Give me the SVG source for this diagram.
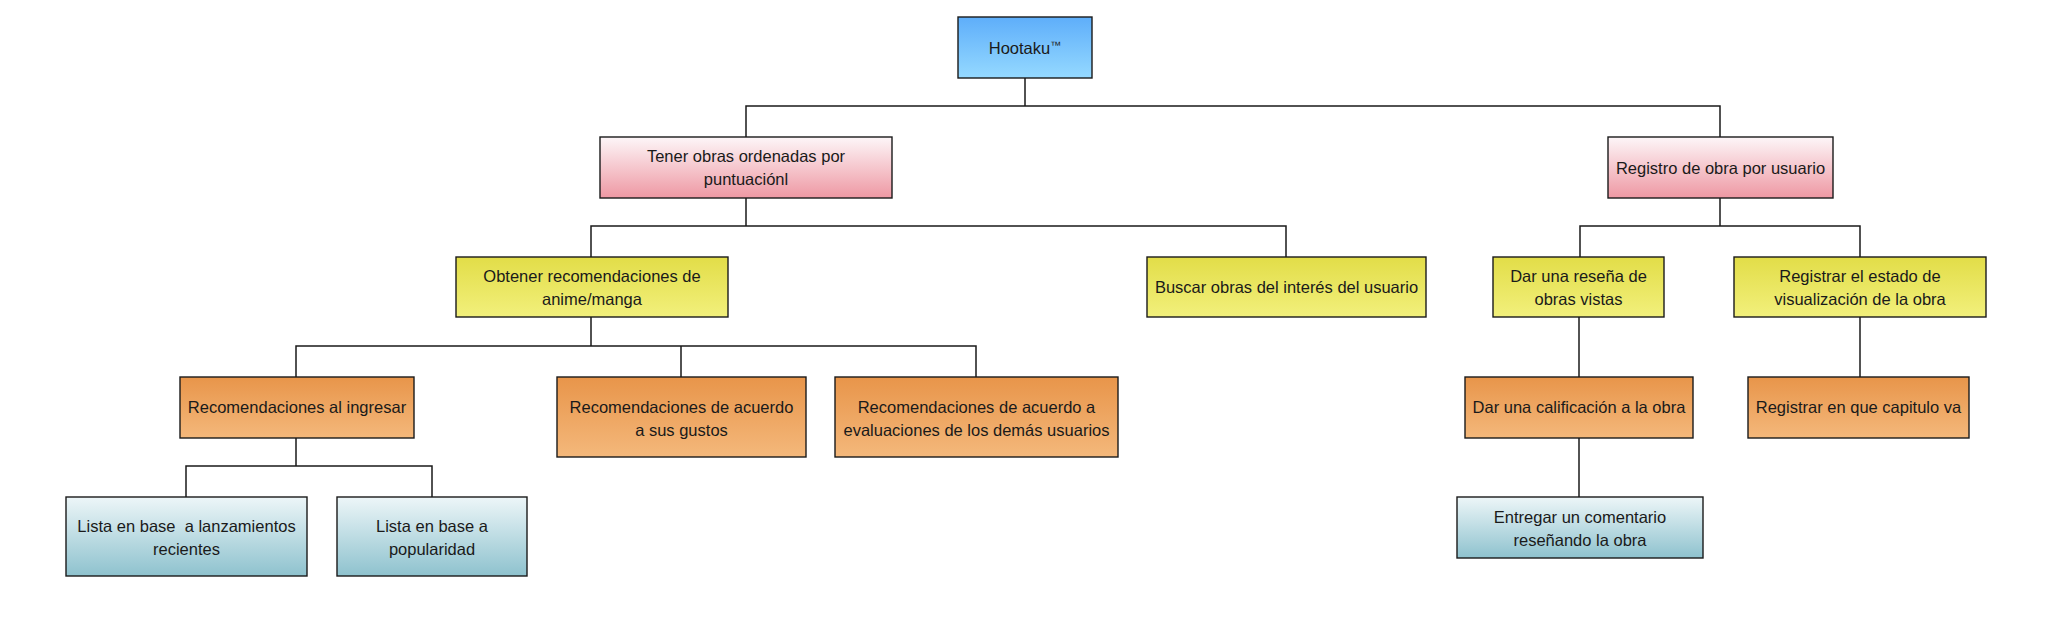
<svg xmlns="http://www.w3.org/2000/svg" width="2068" height="639" viewBox="0 0 2068 639">
<defs>
<linearGradient id="gBlue" x1="0" y1="0" x2="0" y2="1"><stop offset="0" stop-color="#5eaefa"/><stop offset="1" stop-color="#95d9ff"/></linearGradient>
<linearGradient id="gPink" x1="0" y1="0" x2="0" y2="1"><stop offset="0" stop-color="#fdf6f8"/><stop offset="1" stop-color="#ee98a3"/></linearGradient>
<linearGradient id="gYellow" x1="0" y1="0" x2="0" y2="1"><stop offset="0" stop-color="#e2dd48"/><stop offset="1" stop-color="#f2f07c"/></linearGradient>
<linearGradient id="gOrange" x1="0" y1="0" x2="0" y2="1"><stop offset="0" stop-color="#e8954a"/><stop offset="1" stop-color="#f4b87b"/></linearGradient>
<linearGradient id="gTeal" x1="0" y1="0" x2="0" y2="1"><stop offset="0" stop-color="#edf6f8"/><stop offset="1" stop-color="#8ec2ce"/></linearGradient>
</defs>
<style>
.box{stroke:#1a1a1a;stroke-width:1.4}
.blue{fill:url(#gBlue)}
.pink{fill:url(#gPink)}
.yellow{fill:url(#gYellow)}
.orange{fill:url(#gOrange)}
.teal{fill:url(#gTeal)}
text{font-family:"Liberation Sans",Arial,sans-serif;font-size:16.5px;fill:#1a1a1a;text-anchor:middle}
.conn{fill:none;stroke:#1a1a1a;stroke-width:1.5}
</style>
<rect width="2068" height="639" fill="#ffffff"/>
<g id="connectors">
<path class="conn" d="M1025 78V106M746 137V106H1720V137"/>
<path class="conn" d="M746 198V226M591 257V226H1286V257"/>
<path class="conn" d="M1720 198V226M1580 257V226H1860V257"/>
<path class="conn" d="M591 317V346M296 377V346H976V377M681 346V377"/>
<path class="conn" d="M296 438V466M186 497V466H432V497"/>
<path class="conn" d="M1579 317V377"/>
<path class="conn" d="M1860 317V377"/>
<path class="conn" d="M1579 438V497"/>
</g>
<g id="hootaku">
<rect class="box blue" x="958" y="17" width="134" height="61"/>
<text x="1025" y="53.5">Hootaku<tspan font-size="11" dy="-5">™</tspan></text>
</g>
<g id="tener">
<rect class="box pink" x="600" y="137" width="292" height="61"/>
<text x="746" y="162">Tener obras ordenadas por</text>
<text x="746" y="185">puntuaciónl</text>
</g>
<g id="registro">
<rect class="box pink" x="1608" y="137" width="225" height="61"/>
<text x="1720.5" y="173.5">Registro de obra por usuario</text>
</g>
<g id="obtener">
<rect class="box yellow" x="456" y="257" width="272" height="60"/>
<text x="592" y="282">Obtener recomendaciones de</text>
<text x="592" y="305">anime/manga</text>
</g>
<g id="buscar">
<rect class="box yellow" x="1147" y="257" width="279" height="60"/>
<text x="1286.5" y="293">Buscar obras del interés del usuario</text>
</g>
<g id="dar-resena">
<rect class="box yellow" x="1493" y="257" width="171" height="60"/>
<text x="1578.5" y="282">Dar una reseña de</text>
<text x="1578.5" y="305">obras vistas</text>
</g>
<g id="registrar-estado">
<rect class="box yellow" x="1734" y="257" width="252" height="60"/>
<text x="1860" y="282">Registrar el estado de</text>
<text x="1860" y="305">visualización de la obra</text>
</g>
<g id="rec-ingresar">
<rect class="box orange" x="180" y="377" width="234" height="61"/>
<text x="297" y="413">Recomendaciones al ingresar</text>
</g>
<g id="rec-gustos">
<rect class="box orange" x="557" y="377" width="249" height="80"/>
<text x="681.5" y="412.5">Recomendaciones de acuerdo</text>
<text x="681.5" y="435.5">a sus gustos</text>
</g>
<g id="rec-evaluaciones">
<rect class="box orange" x="835" y="377" width="283" height="80"/>
<text x="976.5" y="412.5">Recomendaciones de acuerdo a</text>
<text x="976.5" y="435.5">evaluaciones de los demás usuarios</text>
</g>
<g id="dar-calificacion">
<rect class="box orange" x="1465" y="377" width="228" height="61"/>
<text x="1579" y="413">Dar una calificación a la obra</text>
</g>
<g id="registrar-capitulo">
<rect class="box orange" x="1748" y="377" width="221" height="61"/>
<text x="1858.5" y="413">Registrar en que capitulo va</text>
</g>
<g id="lista-lanzamientos">
<rect class="box teal" x="66" y="497" width="241" height="79"/>
<text x="186.5" y="532" xml:space="preserve">Lista en base  a lanzamientos</text>
<text x="186.5" y="555">recientes</text>
</g>
<g id="lista-popularidad">
<rect class="box teal" x="337" y="497" width="190" height="79"/>
<text x="432" y="532">Lista en base a</text>
<text x="432" y="555">popularidad</text>
</g>
<g id="entregar">
<rect class="box teal" x="1457" y="497" width="246" height="61"/>
<text x="1580" y="523">Entregar un comentario</text>
<text x="1580" y="546">reseñando la obra</text>
</g>
</svg>
